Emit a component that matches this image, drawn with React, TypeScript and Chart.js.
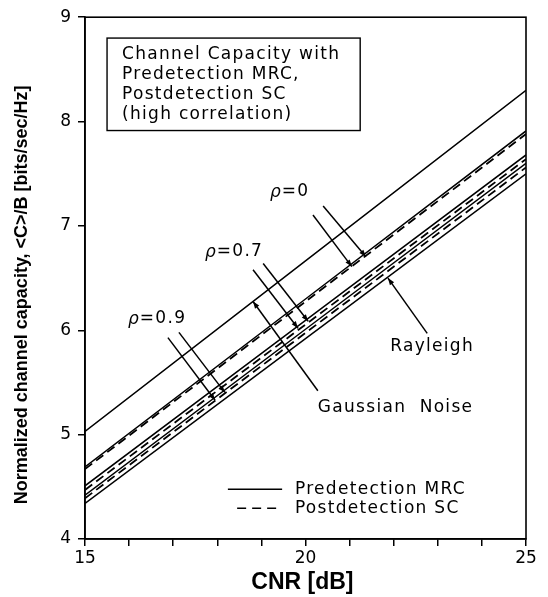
import React, { useEffect, useRef } from "react";
import { Chart, registerables } from "chart.js";

Chart.register(...registerables);

// ---- data ----
const cnrDb = [15, 20, 25];
const gaussianNoise = [5.03, 6.665, 8.3];
const rho0MRC = [4.69, 6.3, 7.91];
const rho0SC = [4.67, 6.275, 7.88];
const rho07MRC = [4.51, 6.095, 7.68];
const rho07SC = [4.47, 6.055, 7.64];
const rho09MRC = [4.42, 6.01, 7.6];
const rho09SC = [4.39, 5.975, 7.56];
const rayleigh = [4.34, 5.92, 7.5];

const yTicks = [4, 5, 6, 7, 8, 9];
const xLabelTicks = [15, 20, 25];

const xTitle = "CNR [dB]";
const yTitle = "Normalized channel capacity, <C>/B [bits/sec/Hz]";

const boxTitleLines = [
  "Channel Capacity with",
  "Predetection MRC,",
  "Postdetection SC",
  "(high correlation)",
];
const legendLabels = ["Predetection MRC", "Postdetection SC"];

// annotation pointers in data space: [x0, y0, x1, y1] (arrow at x1,y1)
const rho0Pointers = [
  [20.17, 7.105, 21.05, 6.61],
  [20.4, 7.19, 21.37, 6.705],
];
const rho07Pointers = [
  [18.81, 6.58, 19.83, 6.02],
  [19.04, 6.64, 20.06, 6.086],
];
const rho09Pointers = [
  [16.88, 5.93, 17.95, 5.33],
  [17.13, 5.98, 18.17, 5.405],
];
const gaussianPointer = [20.28, 5.42, 18.81, 6.276];
const rayleighPointer = [22.76, 5.97, 21.87, 6.5];

const rhoLabels = [
  { text: "0", x: 19.195, y: 7.333 },
  { text: "0.7", x: 17.72, y: 6.752 },
  { text: "0.9", x: 15.975, y: 6.114 },
];

const toXY = (ys: number[]) => ys.map((v, i) => ({ x: cnrDb[i], y: v }));

const PLOT_FONT = "17px 'DejaVu Sans'";

function drawArrowLine(ctx: CanvasRenderingContext2D, x0: number, y0: number, x1: number, y1: number) {
  ctx.beginPath();
  ctx.moveTo(x0, y0);
  ctx.lineTo(x1, y1);
  ctx.stroke();
  const ang = Math.atan2(y1 - y0, x1 - x0);
  const L = 7,
    W = 2.6;
  ctx.beginPath();
  ctx.moveTo(x1, y1);
  ctx.lineTo(x1 - L * Math.cos(ang) + W * Math.sin(ang), y1 - L * Math.sin(ang) - W * Math.cos(ang));
  ctx.lineTo(x1 - L * Math.cos(ang) - W * Math.sin(ang), y1 - L * Math.sin(ang) + W * Math.cos(ang));
  ctx.closePath();
  ctx.fill();
}

const decorPlugin = {
  id: "decor",
  afterDraw(chart: any) {
    const { ctx, chartArea, scales } = chart;
    const xs = scales.x,
      ys = scales.y;
    const px = (v: number) => xs.getPixelForValue(v);
    const py = (v: number) => ys.getPixelForValue(v);
    ctx.save();
    ctx.strokeStyle = "#000";
    ctx.fillStyle = "#000";
    ctx.lineWidth = 1.6;
    // frame
    ctx.strokeRect(chartArea.left, chartArea.top, chartArea.right - chartArea.left, chartArea.bottom - chartArea.top);

    // axis titles
    ctx.textAlign = "center";
    ctx.textBaseline = "middle";
    ctx.font = "bold 23px 'Liberation Sans'";
    ctx.fillText(xTitle, px(19.93), chartArea.bottom + 44);
    ctx.save();
    ctx.translate(chartArea.left - 63, py(6.34));
    ctx.rotate(-Math.PI / 2);
    ctx.font = "bold 18px 'Liberation Sans'";
    ctx.fillText(yTitle, 0, 0);
    ctx.restore();

    // title box
    ctx.lineWidth = 1.4;
    const bx0 = px(15.5),
      bx1 = px(21.24),
      by0 = py(8.8),
      by1 = py(7.914);
    ctx.strokeRect(bx0, by0, bx1 - bx0, by1 - by0);
    ctx.font = PLOT_FONT;
    (ctx as any).letterSpacing = "1.3px";
    ctx.textBaseline = "middle";
    ctx.textAlign = "left";
    const lineYs = [8.638, 8.448, 8.257, 8.067];
    boxTitleLines.forEach((t, i) => ctx.fillText(t, px(15.84), py(lineYs[i])));

    // pointers
    ctx.lineWidth = 1.5;
    [...rho0Pointers, ...rho07Pointers, ...rho09Pointers, gaussianPointer, rayleighPointer].forEach((p) =>
      drawArrowLine(ctx, px(p[0]), py(p[1]), px(p[2]), py(p[3]))
    );

    // rho labels
    rhoLabels.forEach((r) => {
      ctx.font = "italic 17px 'DejaVu Sans'";
      (ctx as any).letterSpacing = "0px";
      const x0 = px(r.x);
      ctx.fillText("ρ", x0, py(r.y) + 1);
      const w = ctx.measureText("ρ").width;
      ctx.font = PLOT_FONT;
      (ctx as any).letterSpacing = "1.3px";
      ctx.fillText("=" + r.text, x0 + w + 1, py(r.y));
    });

    ctx.fillText("Gaussian  Noise", px(20.28), py(5.257));
    ctx.fillText("Rayleigh", px(21.92), py(5.848));

    // legend
    ctx.lineWidth = 1.5;
    ctx.beginPath();
    ctx.moveTo(px(18.24), py(4.476));
    ctx.lineTo(px(19.47), py(4.476));
    ctx.stroke();
    ctx.setLineDash([9, 6]);
    ctx.beginPath();
    ctx.moveTo(px(18.45), py(4.295));
    ctx.lineTo(px(19.47), py(4.295));
    ctx.stroke();
    ctx.setLineDash([]);
    ctx.fillText(legendLabels[0], px(19.76), py(4.476));
    ctx.fillText(legendLabels[1], px(19.76), py(4.295));
    ctx.restore();
  },
};

export default function App() {
  const ref = useRef<HTMLCanvasElement | null>(null);
  useEffect(() => {
    if (!ref.current) return;
    const solid = (data: number[]) => ({
      data: toXY(data),
      borderColor: "#000",
      borderWidth: 1.5,
      pointRadius: 0,
      tension: 0,
      fill: false,
    });
    const dashed = (data: number[]) => ({ ...solid(data), borderDash: [9, 5], borderWidth: 1.8 });
    const chart = new Chart(ref.current, {
      type: "line",
      data: {
        datasets: [
          { label: "Gaussian Noise", ...solid(gaussianNoise) },
          { label: "ρ=0 Predetection MRC", ...solid(rho0MRC) },
          { label: "ρ=0 Postdetection SC", ...dashed(rho0SC) },
          { label: "ρ=0.7 Predetection MRC", ...solid(rho07MRC) },
          { label: "ρ=0.7 Postdetection SC", ...dashed(rho07SC) },
          { label: "ρ=0.9 Predetection MRC", ...solid(rho09MRC) },
          { label: "ρ=0.9 Postdetection SC", ...dashed(rho09SC) },
          { label: "Rayleigh", ...solid(rayleigh) },
        ] as any,
      },
      options: {
        animation: false,
        responsive: false,
        maintainAspectRatio: false,
        layout: { padding: { left: 0, right: 22, top: 14, bottom: 0 } },
        plugins: { legend: { display: false }, tooltip: { enabled: false } },
        scales: {
          x: {
            type: "linear",
            min: 15,
            max: 25,
            afterFit: (s: any) => {
              s.height = 58;
            },
            ticks: {
              stepSize: 1,
              autoSkip: false,
              maxRotation: 0,
              color: "#000",
              font: { family: "'DejaVu Sans'", size: 17 },
              padding: 2,
              callback: (v: any) => (xLabelTicks.includes(Number(v)) ? String(v) : ""),
            },
            grid: { display: true, drawOnChartArea: false, drawTicks: true, tickLength: 7, color: "#000", lineWidth: 1.5 },
            border: { display: true, color: "#000", width: 1.6 },
            title: { display: false, text: xTitle },
          },
          y: {
            type: "linear",
            min: 4,
            max: 9,
            afterFit: (s: any) => {
              s.width = 85;
            },
            ticks: {
              stepSize: 1,
              color: "#000",
              font: { family: "'DejaVu Sans'", size: 17 },
              padding: 7,
              callback: (v: any) => (yTicks.includes(Number(v)) ? String(v) : ""),
            },
            grid: { display: true, drawOnChartArea: false, drawTicks: true, tickLength: 7, color: "#000", lineWidth: 1.5 },
            border: { display: true, color: "#000", width: 1.6 },
            title: { display: false, text: yTitle },
          },
        },
      },
      plugins: [decorPlugin],
    });
    return () => chart.destroy();
  }, []);
  return (
    <div style={{ position: "absolute", left: 0, top: 0, width: 548, height: 597, background: "#fff" }}>
      <canvas ref={ref} width={548} height={597} style={{ display: "block" }} />
    </div>
  );
}
